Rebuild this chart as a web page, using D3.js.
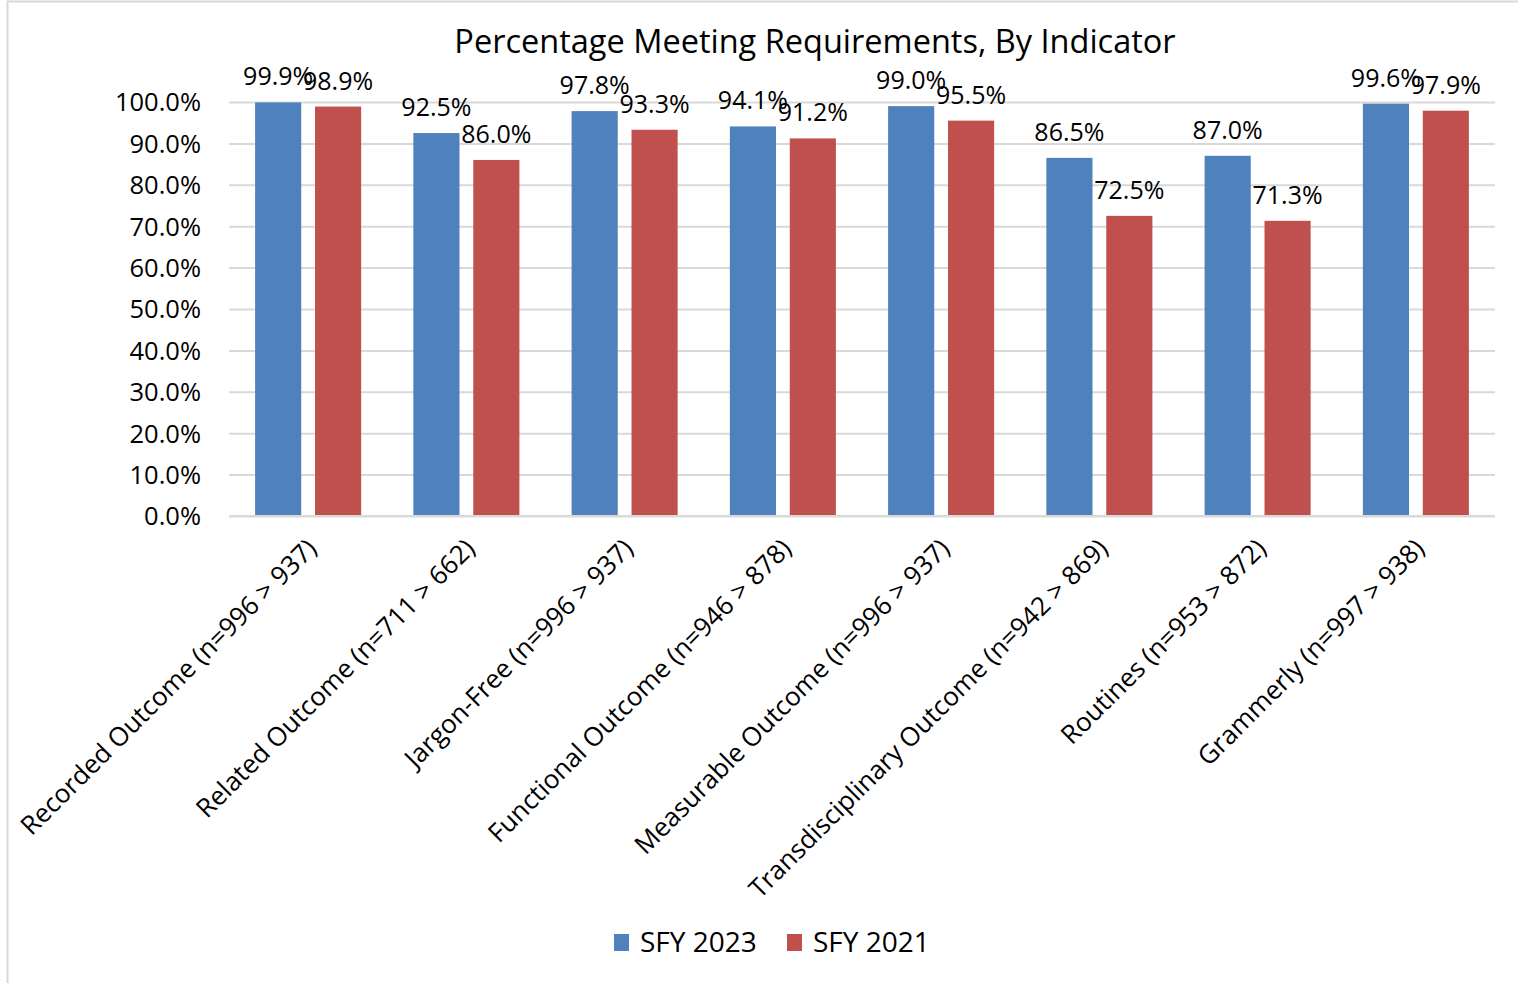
<!DOCTYPE html>
<html>
<head>
<meta charset="utf-8">
<script src="https://cdn.jsdelivr.net/npm/d3@7"></script>
<style>
  body { margin: 0; background: #fff; }
  text { font-family: "Open Sans", sans-serif; fill: #000; }
</style>
</head>
<body>
<div id="chart"></div>
<script>
// данные
const categories = [
  'Recorded Outcome (n=996 > 937)',
  'Related Outcome (n=711 > 662)',
  'Jargon-Free (n=996 > 937)',
  'Functional Outcome (n=946 > 878)',
  'Measurable Outcome (n=996 > 937)',
  'Transdisciplinary Outcome (n=942 > 869)',
  'Routines (n=953 > 872)',
  'Grammerly (n=997 > 938)'
]
const seriesNames = ['SFY 2023', 'SFY 2021']
const sfy2023 = [99.9, 92.5, 97.8, 94.1, 99.0, 86.5, 87.0, 99.6]
const sfy2021 = [98.9, 86.0, 93.3, 91.2, 95.5, 72.5, 71.3, 97.9]
const yTicks = [0, 10, 20, 30, 40, 50, 60, 70, 80, 90, 100]
const colors = ['#4F81BD', '#C0504D']

const W = 1518, H = 983
const plotLeft = 229, plotRight = 1495, plotTop = 102, plotBottom = 516

let svg = d3.select('#chart').append('svg')
  .attr('width', W)
  .attr('height', H)

// рамка
svg.append('rect')
  .attr('x', 7.5).attr('y', 1.5)
  .attr('width', W).attr('height', H)
  .attr('fill', 'none')
  .attr('stroke', '#d9d9d9')
  .attr('stroke-width', 2)

let x0 = d3.scaleBand().domain(categories).range([plotLeft, plotRight])
  .paddingInner(0.33).paddingOuter(0.165)
let x1 = d3.scaleBand().domain(seriesNames).range([0, x0.bandwidth()])
  .paddingInner(0.23)
let y = d3.scaleLinear().domain([0, 100]).range([plotBottom, plotTop])

// сетка
let grid = svg.append('g')
  .attr('transform', `translate(${plotLeft},0)`)
  .call(d3.axisLeft(y).tickValues(yTicks).tickSize(-(plotRight - plotLeft)).tickFormat(''))
grid.select('.domain').remove()
grid.selectAll('line').attr('stroke', '#d9d9d9').attr('stroke-width', 2)

// подписи оси Y
let yAxis = svg.append('g')
  .attr('transform', `translate(${plotLeft},0)`)
  .call(d3.axisLeft(y).tickValues(yTicks).tickSize(0).tickPadding(28)
    .tickFormat(d => d.toFixed(1) + '%'))
yAxis.select('.domain').remove()
yAxis.selectAll('text')
  .style('font-size', '25.5px')
  .style('font-family', '"Open Sans", sans-serif')
  .attr('dy', '0.35em')

// столбцы
let data = categories.map((c, i) => ({ cat: c, vals: [sfy2023[i], sfy2021[i]] }))
let groups = svg.append('g').selectAll('g')
  .data(data).join('g')
  .attr('transform', d => `translate(${x0(d.cat)},0)`)

groups.selectAll('rect')
  .data(d => d.vals.map((v, j) => ({ name: seriesNames[j], v: v, j: j })))
  .join('rect')
  .attr('x', d => x1(d.name))
  .attr('y', d => y(d.v))
  .attr('width', x1.bandwidth())
  .attr('height', d => y(0) - y(d.v))
  .attr('fill', d => colors[d.j])

groups.selectAll('text.lbl')
  .data(d => d.vals.map((v, j) => ({ name: seriesNames[j], v: v })))
  .join('text')
  .attr('class', 'lbl')
  .attr('x', d => x1(d.name) + x1.bandwidth() / 2)
  .attr('y', d => y(d.v) - 17)
  .attr('text-anchor', 'middle')
  .style('font-size', '25px')
  .text(d => d.v.toFixed(1) + '%')

// ось X
svg.append('line')
  .attr('x1', plotLeft).attr('x2', plotRight)
  .attr('y1', plotBottom).attr('y2', plotBottom)
  .attr('stroke', '#d9d9d9').attr('stroke-width', 2)

svg.append('g').selectAll('text')
  .data(categories).join('text')
  .attr('transform', d => `translate(${x0(d) + x0.bandwidth() / 2 + 10},${plotBottom + 34}) rotate(-45)`)
  .attr('text-anchor', 'end')
  .style('font-size', '26px')
  .text(d => d)

// заголовок
svg.append('text')
  .attr('x', 815).attr('y', 53)
  .attr('text-anchor', 'middle')
  .style('font-size', '32.5px')
  .text('Percentage Meeting Requirements, By Indicator')

// легенда
let legend = svg.append('g').selectAll('g')
  .data(seriesNames).join('g')
  .attr('transform', (d, i) => `translate(${614 + i * 173},934)`)
legend.append('rect')
  .attr('width', 15).attr('height', 17)
  .attr('fill', (d, i) => colors[i])
legend.append('text')
  .attr('x', 26).attr('y', 18)
  .style('font-size', '28px')
  .text(d => d)
</script>
</body>
</html>
